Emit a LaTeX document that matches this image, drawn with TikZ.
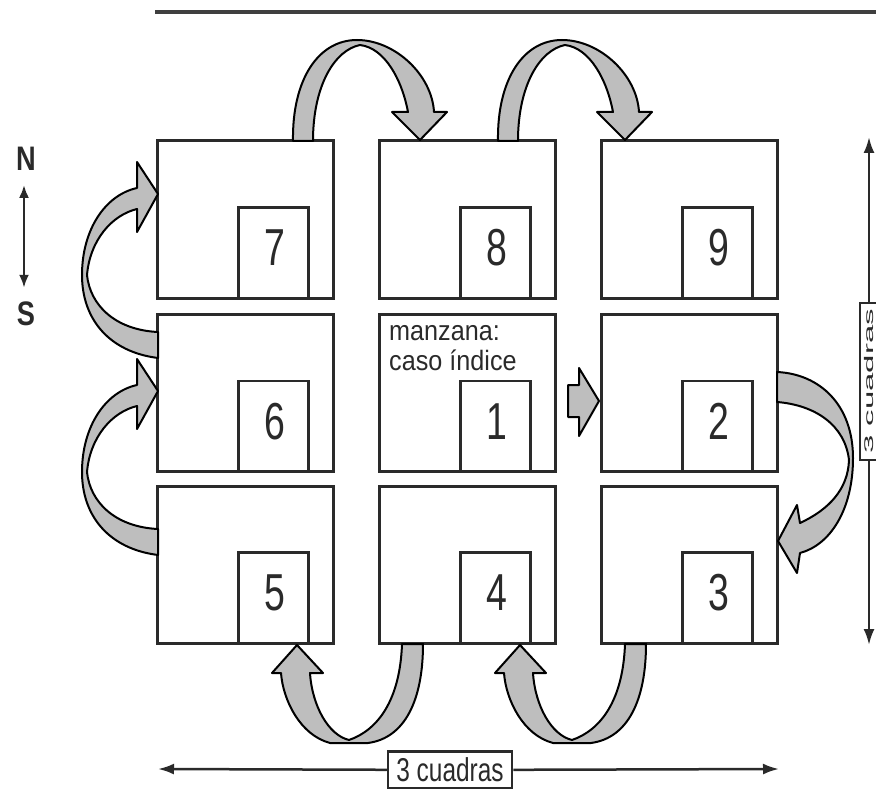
\documentclass[tikz,border=0pt]{standalone}
\usepackage{fontspec}
\setmainfont{Liberation Sans}
\usepackage{graphicx}
\usetikzlibrary{arrows.meta,calc}
\definecolor{ink}{HTML}{2A2A2A}
\definecolor{ribfill}{HTML}{BEBEBE}
\newcommand\cnd[2]{\scalebox{#1}[1]{#2}}
\begin{document}
\begin{tikzpicture}[x=1pt,y=-1pt,
  cell/.style={draw=ink, line width=3pt, minimum width=176pt, minimum height=157pt, inner sep=0pt},
  sub/.style={draw=ink, line width=2.5pt, minimum width=70pt, minimum height=91pt, inner sep=0pt, anchor=south east},
  digit/.style={font=\fontsize{52}{55}\selectfont, text=ink, inner sep=0pt},
  rib/.style={fill=ribfill, draw=black, line width=2pt, line join=round},
  dim/.style={draw=ink, line width=2.5pt},
  tipb/.style={-{Latex[length=16pt,width=11pt]}},
  lbl/.style={draw=ink, line width=2.5pt, fill=white, inner sep=0pt, text=ink},
  compass/.style={font=\bfseries\fontsize{34}{34}\selectfont, text=ink, inner sep=0pt},
  ribtop/.pic={\filldraw[rib] (293,141) .. controls (292,80) and (318,40) .. (357,40)
     .. controls (395,40) and (432,75) .. (434,112) -- (447,112) -- (420,140) -- (392,112) -- (408,112)
     .. controls (402,80) and (385,48) .. (360,45) .. controls (335,50) and (313,85) .. (313,141) -- cycle;},
  ribleft/.pic={\filldraw[rib] (158,358) .. controls (110,352) and (82,320) .. (82,275)
     .. controls (82,230) and (105,195) .. (137,188) -- (137,162) -- (158,194) -- (137,232) -- (137,209)
     .. controls (112,215) and (90,240) .. (87,275) .. controls (90,305) and (115,330) .. (158,332) -- cycle;},
  ribright/.pic={\filldraw[rib] (777,372) .. controls (820,374) and (853,405) .. (853,458)
     .. controls (853,510) and (830,545) .. (800,553) -- (797,573) -- (778,541) -- (797,505) -- (800,523)
     .. controls (828,510) and (848,490) .. (849,460) .. controls (845,425) and (815,405) .. (777,402) -- cycle;},
  ribbot/.pic={\filldraw[rib] (423,644) .. controls (423,700) and (405,738) .. (368,743) -- (330,743)
     .. controls (300,735) and (283,700) .. (281,673) -- (272,673) -- (297,645) -- (323,673) -- (310,673)
     .. controls (312,705) and (328,735) .. (349,740) .. controls (378,730) and (400,700) .. (402,644) -- cycle;}
]
\useasboundingbox (0,0) rectangle (876,789);

% top rule
\coordinate (tl) at (155,12);
\coordinate (tr) at (876,12);
\draw[line width=4pt, ink!90] (tl) -- (tr);

% cells
\node[cell] (b7) at (245,219.5) {};
\node[cell] (b8) at (467,219.5) {};
\node[cell] (b9) at (689,219.5) {};
\node[cell] (b6) at (245,393) {};
\node[cell] (b1) at (467,393) {};
\node[cell] (b2) at (689,393) {};
\node[cell] (b5) at (245,564.5) {};
\node[cell] (b4) at (467,564.5) {};
\node[cell] (b3) at (689,564.5) {};

\foreach \k in {1,...,9}{
  \node[sub] (s\k) at ([xshift=-25pt]b\k.south east) {};
  \node[digit] (d\k) at ([xshift=2pt,yshift=-42pt]s\k.north) {\cnd{0.72}{\k}};
}

% index case text
\node[anchor=base west, inner sep=0pt, font=\fontsize{28}{30}\selectfont, text=ink] (t1) at (389,340) {\cnd{0.9}{manzana:}};
\node[anchor=base west, inner sep=0pt, font=\fontsize{28}{30}\selectfont, text=ink] (t2) at (389,370) {\cnd{0.9}{caso índice}};

% ribbon arrows
\pic (arA) at (0,0) {ribtop};
\pic (arB) at (205,0) {ribtop};
\pic (arC) at (0,0) {ribleft};
\pic (arD) at (0,197) {ribleft};
\pic (arE) at (0,0) {ribright};
\pic (arF) at (0,0) {ribbot};
\pic (arG) at (223,0) {ribbot};

% small block arrow 1 -> 2
\filldraw[rib] (568,385) -- (579,385) -- (579,368) -- (599,401) -- (579,436) -- (579,417) -- (568,417) -- cycle;

% N / S
\node[compass] (nN) at (26,159) {\cnd{0.8}{N}};
\node[compass] (nS) at (26,314) {\cnd{0.8}{S}};
\draw[dim, {Latex[length=13pt,width=10pt]}-{Latex[length=13pt,width=10pt]}] ([xshift=-2pt,yshift=-14pt]nN.south) -- ([xshift=-2pt,yshift=14pt]nS.north);

% bottom dimension
\coordinate (bl) at (158,769);
\coordinate (br) at (779,769);
\node[lbl, minimum width=124pt, minimum height=37pt, font=\fontsize{33}{33}\selectfont] (lb) at (450,770) {\cnd{0.74}{3 cuadras}};
\draw[dim, tipb] (lb) -- (bl);
\draw[dim, tipb] (lb) -- (br);

% right dimension
\coordinate (rt) at (869,137);
\coordinate (rb) at (869,645);
\node[lbl, rotate=90, minimum width=157pt, minimum height=18pt, font=\fontsize{30}{30}\selectfont] (rl) at (869,381.5) {\scalebox{1.1}[0.42]{3 cuadras}};
\draw[dim, tipb] (rl) -- (rt);
\draw[dim, tipb] (rl) -- (rb);
\end{tikzpicture}
\end{document}
